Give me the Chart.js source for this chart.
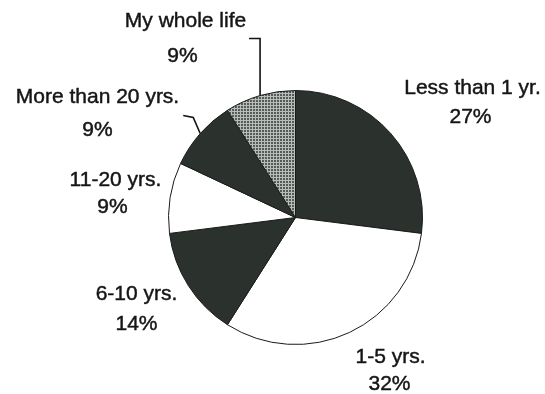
<!DOCTYPE html>
<html>
<head>
<meta charset="utf-8">
<script src="https://cdn.jsdelivr.net/npm/chart.js@4/dist/chart.umd.min.js"></script>
<style>
  html, body { margin: 0; padding: 0; background: #ffffff; }
  #wrap { width: 545px; height: 394px; position: relative; }
</style>
</head>
<body>
<div id="wrap"><canvas id="c" width="545" height="394"></canvas></div>
<script>
// ---- data ----
const categories = ["Less than 1 yr.", "1-5 yrs.", "6-10 yrs.", "11-20 yrs.", "More than 20 yrs.", "My whole life"];
const percents = [27, 32, 14, 9, 9, 9];

// ---- styling ----
const DARK = "#2b322e";
const WHITE = "#ffffff";
function gridPattern() {
  const p = document.createElement("canvas");
  p.width = 3; p.height = 3;
  const g = p.getContext("2d");
  g.fillStyle = "#555b57";
  g.fillRect(0, 0, 3, 3);
  g.fillStyle = "#b9bdba";
  g.fillRect(0, 0, 3, 1);
  g.fillRect(0, 0, 1, 3);
  return g.createPattern(p, "repeat");
}
const sliceColors = [DARK, WHITE, DARK, WHITE, DARK, gridPattern()];

// label placement relative to pie centre (first-line baseline), per slice
const labelLayout = [
  { dx: 177, dy: -124, dx2: 175, gap: 29 },
  { dx: 95, dy: 145, dx2: 94, gap: 27 },
  { dx: -159, dy: 82, dx2: -159, gap: 30 },
  { dx: -180, dy: -32, dx2: -183, gap: 27 },
  { dx: -198, dy: -115, dx2: -198, gap: 33 },
  { dx: -110, dy: -191, dx2: -113, gap: 35 }
];
// leader lines: offsets from the arc-edge midpoint
const leaders = {
  4: [[0, 0], [-7, -16], [-17, -18]],
  5: [[0, 0], [0, -57], [-11, -57]]
};

const labelPlugin = {
  id: "sliceLabels",
  afterDraw(chart) {
    const ctx = chart.ctx;
    const arcs = chart.getDatasetMeta(0).data;
    const cx = arcs[0].x, cy = arcs[0].y;
    ctx.save();
    ctx.fillStyle = "#151515";
    ctx.strokeStyle = "#151515";
    ctx.lineWidth = 0.45;
    ctx.font = "21px 'Liberation Sans', Arial, sans-serif";
    ctx.textAlign = "center";
    ctx.textBaseline = "alphabetic";
    categories.forEach((name, i) => {
      const L = labelLayout[i];
      const pct = percents[i] + "%";
      ctx.fillText(name, cx + L.dx, cy + L.dy);
      ctx.strokeText(name, cx + L.dx, cy + L.dy);
      ctx.fillText(pct, cx + L.dx2, cy + L.dy + L.gap);
      ctx.strokeText(pct, cx + L.dx2, cy + L.dy + L.gap);
    });
    ctx.strokeStyle = "#111";
    ctx.lineWidth = 1.6;
    Object.keys(leaders).forEach(k => {
      const a = arcs[k];
      const mid = (a.startAngle + a.endAngle) / 2;
      const ex = a.x + Math.cos(mid) * a.outerRadius;
      const ey = a.y + Math.sin(mid) * a.outerRadius;
      ctx.beginPath();
      leaders[k].forEach((o, j) => {
        if (j === 0) ctx.moveTo(ex + o[0], ey + o[1]);
        else ctx.lineTo(ex + o[0], ey + o[1]);
      });
      ctx.stroke();
    });
    ctx.restore();
  }
};

new Chart(document.getElementById("c"), {
  type: "pie",
  data: {
    labels: categories,
    datasets: [{
      data: percents,
      backgroundColor: sliceColors,
      borderColor: "#1a1a1a",
      borderWidth: 1
    }]
  },
  options: {
    responsive: false,
    animation: false,
    layout: { padding: { left: 168, right: 122, top: 90, bottom: 49 } },
    plugins: {
      legend: { display: false },
      tooltip: { enabled: false },
      title: { display: false }
    }
  },
  plugins: [labelPlugin]
});
</script>
</body>
</html>
